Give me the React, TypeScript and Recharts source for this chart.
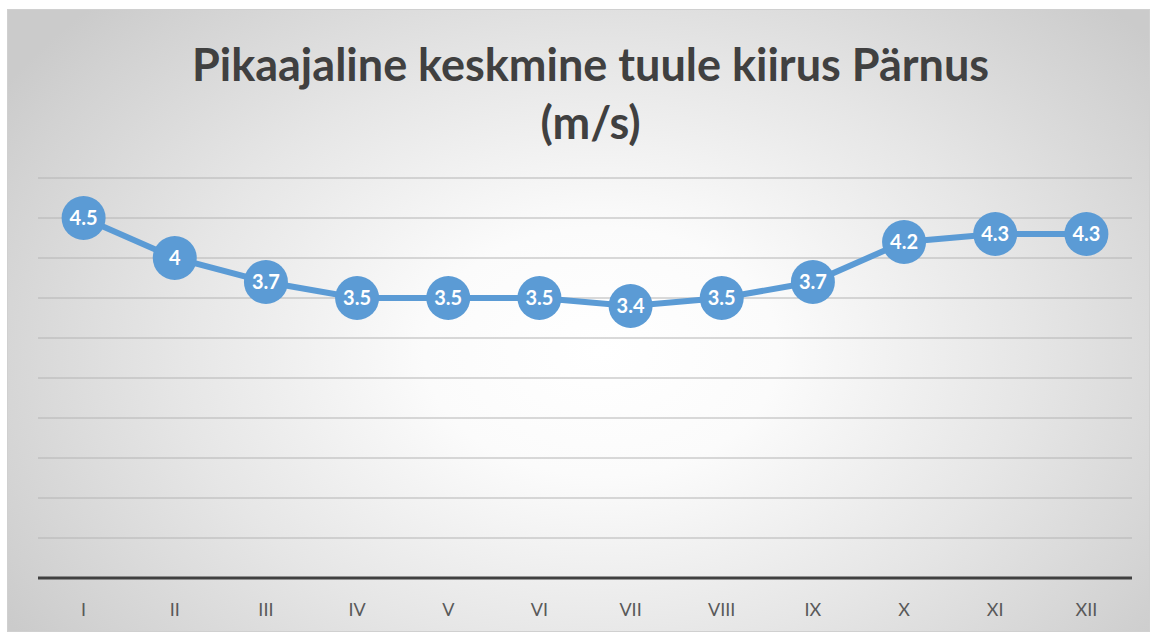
import { CartesianGrid, LabelList, Line, LineChart, XAxis, YAxis } from "recharts";

const months = ["I", "II", "III", "IV", "V", "VI", "VII", "VIII", "IX", "X", "XI", "XII"];
const windSpeed = [4.5, 4, 3.7, 3.5, 3.5, 3.5, 3.4, 3.5, 3.7, 4.2, 4.3, 4.3];
const yTicks = [0, 0.5, 1, 1.5, 2, 2.5, 3, 3.5, 4, 4.5, 5];

const data = months.map((m, i) => ({ month: m, speed: windSpeed[i] }));

const BLUE = "#5B9BD5";

function Dot(props: any) {
  const { cx, cy } = props;
  if (cx == null || cy == null) return null;
  return <circle cx={cx} cy={cy} r={22} fill={BLUE} />;
}

export default function App() {
  return (
    <div
      style={{
        position: "absolute",
        left: 7,
        top: 9,
        width: 1143,
        height: 623,
        border: "1px solid #d0d0d0",
        boxSizing: "border-box",
        background:
          "radial-gradient(ellipse 62% 80% at 52% 55%, #ffffff 0%, #fbfbfb 25%, #e6e6e6 60%, #d2d2d2 90%, #cbcbcb 100%)",
        fontFamily: "Lato, 'Open Sans', sans-serif",
      }}
    >
      <div
        style={{
          position: "absolute",
          left: 12,
          width: "100%",
          top: 25,
          textAlign: "center",
          fontWeight: 700,
          fontSize: 45,
          lineHeight: "58px",
          color: "#404040",
        }}
      >
        Pikaajaline keskmine tuule kiirus Pärnus
        <br />
        (m/s)
      </div>
      <div style={{ position: "absolute", left: -1, top: -1 }}>
        <LineChart
          width={1143}
          height={623}
          data={data}
          margin={{ top: 169, right: 18, bottom: 24, left: 31 }}
        >
          <CartesianGrid vertical={false} stroke="#b4b4b4" />
          <YAxis hide domain={[0, 5]} ticks={yTicks} />
          <XAxis
            dataKey="month"
            height={30}
            padding={{ left: 45.6, right: 45.6 }}
            tickLine={false}
            tickMargin={19}
            axisLine={{ stroke: "#404040", strokeWidth: 3 }}
            tick={{ fill: "#595959", fontSize: 18 }}
          />
          <Line
            dataKey="speed"
            stroke={BLUE}
            strokeWidth={6}
            dot={<Dot />}
            activeDot={false}
            isAnimationActive={false}
          >
            <LabelList
              dataKey="speed"
              position="center"
              fill="#ffffff"
              fontSize={20}
              fontWeight={700}
            />
          </Line>
        </LineChart>
      </div>
    </div>
  );
}
